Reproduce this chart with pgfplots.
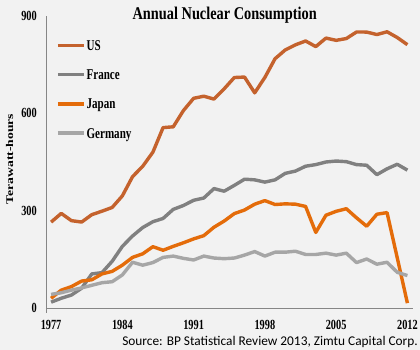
\documentclass[border=0pt]{standalone}
\usepackage{graphicx}
\usepackage{fontspec}
\setmainfont{Liberation Serif}
\newfontfamily\srcfont{Carlito}
\usepackage{pgfplots}
\usepackage{pgfplotstable}
\pgfplotsset{compat=1.18}
\definecolor{bg}{HTML}{F2F2F2}
\definecolor{cUS}{RGB}{196,98,45}
\definecolor{cFR}{RGB}{128,128,128}
\definecolor{cJP}{RGB}{228,108,10}
\definecolor{cDE}{RGB}{166,166,166}
\definecolor{axgray}{RGB}{134,134,134}
\newcommand\sq[1]{\scalebox{0.74}[1]{#1}}

\pgfplotstableread{
year us fr jp de
1977 264.7 18 30 42
1978 291.6 30 55 47
1979 269.2 40 66 55
1980 264.9 61 83 62
1981 287.7 105 87 70
1982 298.4 109 105 78
1983 309.9 144 113 81
1984 345.6 190 132 102
1985 404.8 222 156 141
1986 436.8 248 167 132
1987 480.3 266 189 140
1988 556.0 276 178 156
1989 558.5 304 190 160
1990 608.6 316 201 153
1991 646.3 332 213 148
1992 652.8 339 223 160
1993 643.9 368 249 154
1994 675.6 360 268 152
1995 710.4 378 291 154
1996 711.8 397 302 163
1997 663.2 395 320 174
1998 710.7 388 331 160
1999 768.4 395 319 172
2000 795.4 415 321 172
2001 811.1 422 320 175
2002 823.0 437 313 165
2003 805.7 442 233 165
2004 831.9 450 286 169
2005 825.0 453 298 163
2006 830.5 451 306 169
2007 850.7 442 278 140
2008 850.5 440 252 151
2009 842.8 411 289 135
2010 851.4 429 294 141
2011 833.7 443 155 110
2012 811.6 425 15 100
}\data

\begin{document}
\begin{tikzpicture}
\fill[bg] (-46bp,-42bp) rectangle (374bp,308bp);
\useasboundingbox (-46bp,-42bp) rectangle (374bp,308bp);
\begin{axis}[
  at={(0,0)}, anchor=south west,
  scale only axis, width=366.5bp, height=292bp,
  xmin=1976.5, xmax=2012.5, ymin=0, ymax=900,
  axis x line*=bottom, axis y line*=left,
  axis line style={axgray, line width=0.8bp},
  xtick={1977,1984,1991,1998,2005,2012},
  xticklabels={\sq{1977},\sq{1984},\sq{1991},\sq{1998},\sq{2005},\sq{2012}},
  ytick={0,300,600,900},
  yticklabels={\sq{0},\sq{300},\sq{600},\sq{900}},
  major tick length=0pt,
  tick label style={font=\fontsize{14}{14}\selectfont\bfseries},
  xticklabel style={inner sep=0pt, anchor=north, yshift=-12bp},
  yticklabel style={inner sep=0pt, anchor=east, xshift=-9bp},
  extra x ticks={1976.5}, extra x tick labels={},
  extra x tick style={major tick length=5bp, tick align=outside, tick style={axgray, line width=0.8bp}},
  legend style={at={(0.0273,0.928)}, anchor=north west, draw=none, fill=none,
    inner xsep=0pt, inner ysep=0pt, row sep=13.3bp,
    nodes={inner ysep=0pt, inner xsep=1bp, text height=13bp, text depth=3bp},
    font=\fontsize{15}{15}\selectfont\bfseries},
  legend cell align=left,
  legend image code/.code={\draw[#1, line cap=butt] (0bp,0bp) -- (26bp,0bp);},
  every axis plot/.append style={line width=3.4bp, line join=round},
]
\addplot[cUS, no markers] table[x=year, y=us] {\data};
\addplot[cFR, no markers] table[x=year, y=fr] {\data};
\addplot[cJP, no markers] table[x=year, y=jp] {\data};
\addplot[cDE, no markers] table[x=year, y=de] {\data};
\legend{\sq{US},\sq{France},\sq{Japan},\sq{Germany}}
\end{axis}
\node[anchor=base, font=\fontsize{18}{18}\selectfont\bfseries] at (178.7bp,288.7bp) {\scalebox{0.8}[1]{Annual Nuclear Consumption}};
\node[anchor=base, rotate=90, font=\fontsize{13.7}{13.7}\selectfont\bfseries, inner sep=0pt] at (-33bp,149bp) {\scalebox{1}[0.75]{Terawatt-hours}};
\node[anchor=base east, inner sep=0pt, font=\fontsize{13.4}{13.4}\selectfont\srcfont] at (372bp,-37.7bp) {Source: BP Statistical Review 2013, Zimtu Capital Corp.};
\end{tikzpicture}
\end{document}
